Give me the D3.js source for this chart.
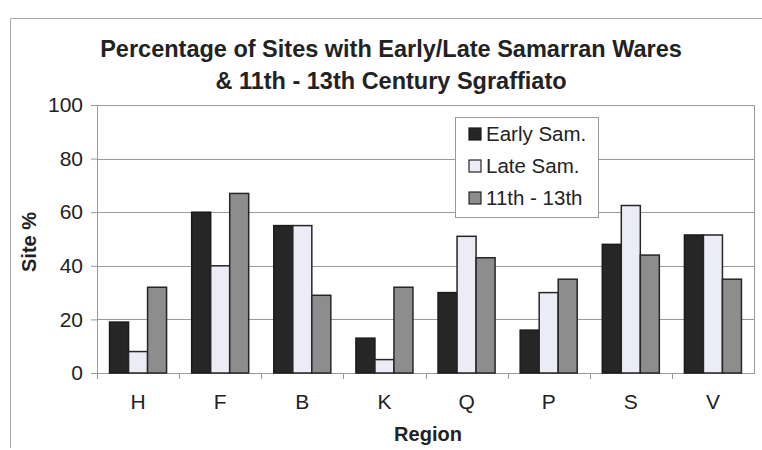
<!DOCTYPE html>
<html>
<head>
<meta charset="utf-8">
<script src="https://cdn.jsdelivr.net/npm/d3@7"></script>
<style>
  body { margin: 0; background: #fff; }
  text { font-family: "Liberation Sans", Arial, sans-serif; fill: #222; }
</style>
</head>
<body>
<div id="chart"></div>
<script>
// data
var regions = ["H", "F", "B", "K", "Q", "P", "S", "V"];
var seriesNames = ["Early Sam.", "Late Sam.", "11th - 13th"];
var earlySam = [19, 60, 55, 13, 30, 16, 48, 51.5];
var lateSam = [8, 40, 55, 5, 51, 30, 62.5, 51.5];
var sgraffiato = [32, 67, 29, 32, 43, 35, 44, 35];
var yTicks = [0, 20, 40, 60, 80, 100];
var titleLines = ["Percentage of Sites with Early/Late Samarran Wares", "& 11th - 13th Century Sgraffiato"];

var width = 762, height = 450;
var margin = {top: 105, right: 8, bottom: 77, left: 97};
var plotW = width - margin.left - margin.right;
var plotH = height - margin.top - margin.bottom;

var fills = ["#262626", "#ececf6", "#8d8d8d"];
var strokes = ["#1a1a1a", "#262626", "#262626"];
var font = "'Liberation Sans', Arial, sans-serif";

var rows = regions.map(function(r, i) {
    return {region: r, values: [earlySam[i], lateSam[i], sgraffiato[i]]};
});

var svg = d3.select("#chart")
            .append("svg")
            .attr("width", width)
            .attr("height", height);

// outer frame (cut by the right and bottom edges)
svg.append("path")
   .attr("d", "M10.5,448 V18.5 H762")
   .attr("fill", "none")
   .attr("stroke", "#a8a8a8")
   .attr("stroke-width", 1);

var g = svg.append("g")
           .attr("transform", "translate(" + margin.left + "," + margin.top + ")");

var x0 = d3.scaleBand()
    .domain(regions)
    .range([0, plotW]);

var x1 = d3.scaleBand()
    .domain(d3.range(3))
    .range([0, x0.bandwidth()])
    .paddingOuter(0.66);

var y = d3.scaleLinear()
    .domain([0, 100])
    .range([plotH, 0]);

// gridlines
g.append("g")
 .selectAll("line")
 .data(yTicks)
 .enter()
 .append("line")
 .attr("x1", 0)
 .attr("x2", plotW)
 .attr("y1", function(d) { return Math.round(y(d)) + 0.5; })
 .attr("y2", function(d) { return Math.round(y(d)) + 0.5; })
 .attr("stroke", "#9a9a9a")
 .attr("stroke-width", 1);

// plot border
g.append("rect")
 .attr("x", 0.5)
 .attr("y", 0.5)
 .attr("width", plotW)
 .attr("height", plotH)
 .attr("fill", "none")
 .attr("stroke", "#9a9a9a");

// bars
var groups = g.append("g")
    .selectAll("g")
    .data(rows)
    .enter()
    .append("g")
    .attr("transform", function(d) { return "translate(" + x0(d.region) + ",0)"; });

groups.selectAll("rect")
    .data(function(d) { return d.values; })
    .enter()
    .append("rect")
    .attr("x", function(d, i) { return x1(i); })
    .attr("y", function(d) { return y(d); })
    .attr("width", x1.bandwidth())
    .attr("height", function(d) { return plotH - y(d); })
    .attr("fill", function(d, i) { return fills[i]; })
    .attr("stroke", function(d, i) { return strokes[i]; })
    .attr("stroke-width", 1.5);

// y axis
var yAxis = g.append("g")
    .call(d3.axisLeft(y).tickValues(yTicks).tickSize(6).tickPadding(8));
yAxis.select(".domain").attr("stroke", "#9a9a9a");
yAxis.selectAll(".tick line").attr("stroke", "#9a9a9a");
yAxis.selectAll("text")
     .style("font-size", "21px")
     .style("font-family", font)
     .attr("fill", "#222");

// x axis
var xAxis = g.append("g")
    .attr("transform", "translate(0," + plotH + ")")
    .call(d3.axisBottom(x0).tickSize(0).tickPadding(21));
xAxis.select(".domain").remove();
xAxis.selectAll("text")
     .style("font-size", "21px")
     .style("font-family", font)
     .attr("fill", "#222");

// category separators below the baseline
g.append("g")
 .selectAll("line")
 .data(regions)
 .enter()
 .append("line")
 .attr("x1", function(d) { return Math.round(x0(d)) + 0.5; })
 .attr("x2", function(d) { return Math.round(x0(d)) + 0.5; })
 .attr("y1", plotH)
 .attr("y2", plotH + 6)
 .attr("stroke", "#9a9a9a");

// title
svg.append("g")
   .selectAll("text")
   .data(titleLines)
   .enter()
   .append("text")
   .attr("x", 391)
   .attr("y", function(d, i) { return 57 + i * 32; })
   .attr("text-anchor", "middle")
   .style("font-size", "23.5px")
   .style("font-weight", "bold")
   .text(function(d) { return d; });

// axis titles
svg.append("text")
   .attr("transform", "translate(36,242) rotate(-90)")
   .attr("text-anchor", "middle")
   .style("font-size", "20px")
   .style("font-weight", "bold")
   .text("Site %");

svg.append("text")
   .attr("x", 428)
   .attr("y", 441)
   .attr("text-anchor", "middle")
   .style("font-size", "20px")
   .style("font-weight", "bold")
   .text("Region");

// legend
var legend = svg.append("g")
    .attr("transform", "translate(455,117)");

legend.append("rect")
    .attr("x", 0.5)
    .attr("y", 0.5)
    .attr("width", 143)
    .attr("height", 100)
    .attr("fill", "#fff")
    .attr("stroke", "#9a9a9a");

var item = legend.selectAll(".item")
    .data(seriesNames)
    .enter()
    .append("g")
    .attr("class", "item")
    .attr("transform", function(d, i) { return "translate(0," + (17 + i * 32) + ")"; });

item.append("rect")
    .attr("x", 14)
    .attr("y", -6)
    .attr("width", 12)
    .attr("height", 12)
    .attr("fill", function(d, i) { return fills[i]; })
    .attr("stroke", function(d, i) { return strokes[i]; })
    .attr("stroke-width", 1.2);

item.append("text")
    .attr("x", 31)
    .attr("y", 7)
    .style("font-size", "20.5px")
    .text(function(d) { return d; });
</script>
</body>
</html>
